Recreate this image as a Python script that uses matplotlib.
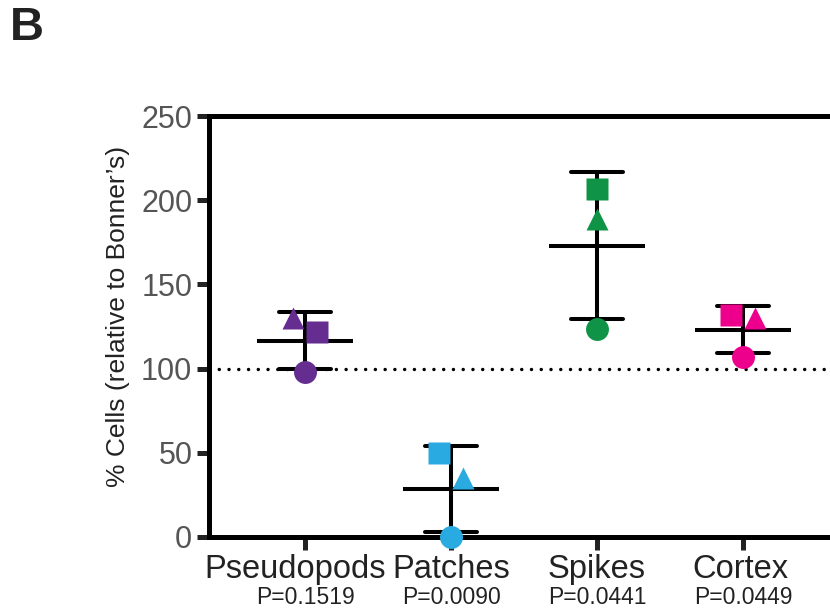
import numpy as np
import matplotlib
matplotlib.use("Agg")
import matplotlib.pyplot as plt
import matplotlib.transforms as mtransforms

plt.rcParams['font.family'] = ['Liberation Sans', 'DejaVu Sans']

# ---- data ----
categories = ["Pseudopods", "Patches", "Spikes", "Cortex"]
p_values = ["P=0.1519", "P=0.0090", "P=0.0441", "P=0.0449"]
rep_circle = [98, 0, 123.5, 107]
rep_triangle = [130, 35, 189, 130]
rep_square = [122, 50, 206.5, 132]
colors = ["#662d91", "#29abe2", "#0f9447", "#ec008c"]
y_ticks = [0, 50, 100, 150, 200, 250]
reference_level = 100

# ---- style / layout ----
jitter_circle = [0.0, 0.0, 0.0, 0.0]
jitter_triangle = [-0.08, 0.08, 0.0, 0.08]
jitter_square = [0.08, -0.08, 0.0, -0.08]
label_shift_px = [-10, 0, 0, -3]

W, H = 830, 610
fig = plt.figure(figsize=(W / 100, H / 100), dpi=100)
ax_left, ax_bottom, ax_top = 209, 537, 116
ax_width_px = 700
ax = fig.add_axes([ax_left / W, (H - ax_bottom) / H, ax_width_px / W, (ax_bottom - ax_top) / H])
px_per_unit = 146.0
xmin = 1 - (305 - ax_left) / px_per_unit
ax.set_xlim(xmin, xmin + ax_width_px / px_per_unit)
ax.set_ylim(0, 250)

lw_spine = 3.6
for s in ["left", "bottom", "top"]:
    ax.spines[s].set_linewidth(lw_spine)
    ax.spines[s].set_color("black")
ax.spines["right"].set_visible(False)

x = np.arange(1, len(categories) + 1)
reps = np.array([rep_circle, rep_triangle, rep_square], dtype=float)
means = reps.mean(axis=0)
sds = reps.std(axis=0, ddof=1)

ebw = 2.9
mean_half = 0.33
cap_half = 0.18
for i in range(len(categories)):
    ax.plot([x[i] - mean_half, x[i] + mean_half], [means[i]] * 2, color="black", lw=ebw, zorder=3, solid_capstyle="butt")
    ax.plot([x[i]] * 2, [means[i] - sds[i], means[i] + sds[i]], color="black", lw=ebw, zorder=3, solid_capstyle="butt")
    for v in (means[i] - sds[i], means[i] + sds[i]):
        ax.plot([x[i] - cap_half, x[i] + cap_half], [v, v], color="black", lw=ebw, zorder=3, solid_capstyle="round")

for i in range(len(categories)):
    ax.plot(x[i] + jitter_circle[i], rep_circle[i], "o", ms=16.5, color=colors[i], mec="none", zorder=5, clip_on=False)
    ax.plot(x[i] + jitter_triangle[i], rep_triangle[i], "^", ms=15.5, color=colors[i], mec="none", zorder=5, clip_on=False)
    ax.plot(x[i] + jitter_square[i], rep_square[i], "s", ms=16.5, color=colors[i], mec="none", zorder=5, clip_on=False)

ax.axhline(reference_level, color="black", lw=2.5, linestyle=(0, (0.01, 2.8)), dash_capstyle="round", zorder=2)

ax.set_yticks(y_ticks)
ax.set_yticklabels([str(t) for t in y_ticks])
ax.set_xticks(x)
ax.set_xticklabels(categories)
ax.tick_params(axis="y", length=9, width=3.6, color="#222222", labelsize=22, labelcolor="#555555", pad=3)
ax.tick_params(axis="x", length=9, width=3.6, color="#222222", labelsize=23.5, labelcolor="#222222", pad=3.5)

for lab, dx in zip(ax.get_xticklabels(), label_shift_px):
    lab.set_transform(lab.get_transform() + mtransforms.ScaledTranslation(dx / 100, 0, fig.dpi_scale_trans))

for i in range(len(categories)):
    ax.text(x[i], -0.159, p_values[i], transform=ax.get_xaxis_transform(), ha="center", va="baseline",
            fontsize=16.5, color="#222222")

fig.text(118 / W, 1 - 316 / H, "% Cells (relative to Bonner\u2019s)", rotation=90, ha="center", va="center",
         fontsize=19, color="#222222")
fig.text(27 / W, 1 - 28 / H, "B", ha="center", va="center", fontsize=34, fontweight="bold", color="#222222")

fig.savefig("out.png", dpi=100)
